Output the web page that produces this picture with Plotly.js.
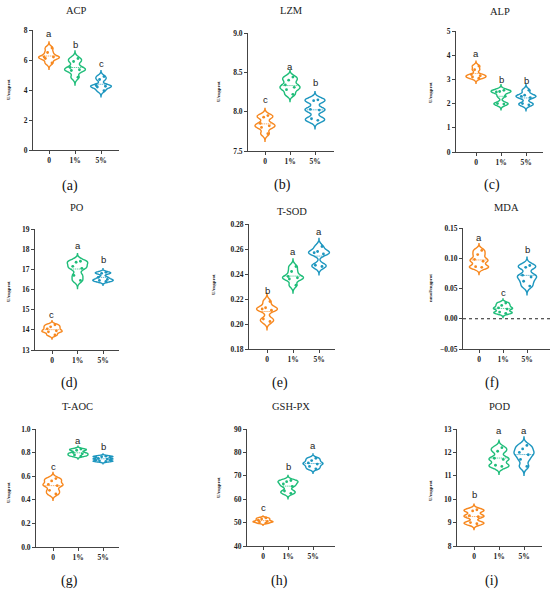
<!DOCTYPE html>
<html>
<head>
<meta charset="utf-8">
<script src="https://cdn.plot.ly/plotly-3.0.1.min.js"></script>
<style>html,body{margin:0;padding:0;background:#fff;}#chart{width:550px;height:596px;}</style>
</head>
<body>
<div id="chart"></div>
<script>
// ---- data ----
const groups = ['0', '1%', '5%'];
const panelTitles = ['ACP', 'LZM', 'ALP', 'PO', 'T-SOD', 'MDA', 'T-AOC', 'GSH-PX', 'POD'];
const panelLabels = ['(a)', '(b)', '(c)', '(d)', '(e)', '(f)', '(g)', '(h)', '(i)'];
const yUnits = ['U/mgprot', 'U/mgprot', 'U/mgprot', 'U/mgprot', 'U/mgprot', 'nmol/mgprot', 'U/mgprot', 'U/mgprot', 'U/mgprot'];

const ACP = [[6.8, 6.5, 6.2, 6.2, 6.1, 5.8], [6.1, 5.9, 5.5, 5.35, 5.3, 4.85], [4.9, 4.7, 4.3, 4.25, 4.2, 3.95]];
const LZM = [[7.95, 7.93, 7.85, 7.82, 7.80, 7.72], [8.44, 8.40, 8.34, 8.31, 8.28, 8.22], [8.15, 8.14, 8.03, 8.02, 7.91, 7.89]];
const ALP = [[3.55, 3.4, 3.2, 3.15, 3.1, 3.05], [2.55, 2.5, 2.48, 2.3, 2.0, 1.98], [2.55, 2.35, 2.3, 2.25, 2.0, 1.95]];
const PO = [[14.25, 14.15, 14.05, 13.95, 13.9, 13.75], [17.4, 17.35, 17.15, 17.05, 16.7, 16.45], [16.85, 16.8, 16.6, 16.5, 16.45, 16.4]];
const TSOD = [[0.218, 0.213, 0.212, 0.211, 0.204, 0.202], [0.246, 0.242, 0.238, 0.237, 0.236, 0.231], [0.262, 0.258, 0.257, 0.256, 0.247, 0.246]];
const MDA = [[0.113, 0.106, 0.098, 0.095, 0.086, 0.085], [0.026, 0.022, 0.018, 0.016, 0.011, 0.009], [0.088, 0.085, 0.072, 0.069, 0.062, 0.054]];
const TAOC = [[0.58, 0.56, 0.53, 0.52, 0.48, 0.45], [0.83, 0.82, 0.80, 0.79, 0.78, 0.77], [0.77, 0.765, 0.75, 0.745, 0.73, 0.725]];
const GSHPX = [[52, 51.5, 51, 50.5, 50.3, 49.8], [68, 67.5, 66.5, 65.5, 63.5, 62.5], [77.5, 76.5, 75.5, 75, 74, 73]];
const POD = [[9.55, 9.5, 9.3, 9.25, 9.0, 8.95], [12.2, 12.05, 11.75, 11.7, 11.45, 11.4], [12.3, 12.15, 12.0, 11.9, 11.7, 11.4]];

const letters = [['a','b','c'], ['c','a','b'], ['a','b','b'], ['c','a','b'], ['b','a','a'], ['a','c','b'], ['c','a','b'], ['c','b','a'], ['b','a','a']];
const letterY = [[7.75, 7.05, 5.75], [8.15, 8.58, 8.37], [4.05, 3.0, 2.95], [14.75, 18.2, 17.5], [0.227, 0.258, 0.274], [0.135, 0.043, 0.115], [0.68, 0.9, 0.85], [56.5, 74, 83], [10.2, 12.95, 12.95]];

const yRanges = [[0, 8], [7.5, 9.0], [0, 5], [13, 19], [0.18, 0.28], [-0.05, 0.15], [0, 1.0], [40, 90], [8, 13]];
const yDticks = [2, 0.5, 1, 1, 0.02, 0.05, 0.2, 10, 1];
const yFormats = ['', '.1f', '', '', '.2f', '.2f', '.1f', '', ''];

const panelData = [ACP, LZM, ALP, PO, TSOD, MDA, TAOC, GSHPX, POD];

// ---- layout geometry (pixels in the 550x596 figure) ----
const W = 550, H = 596;
const geo = [
  {x0: 33, x1: 119, y0: 30, y1: 150, c0: 49, cs: 26},
  {x0: 248, x1: 334, y0: 33, y1: 151, c0: 265, cs: 25},
  {x0: 456, x1: 543, y0: 31, y1: 152, c0: 476, cs: 25},
  {x0: 35, x1: 119, y0: 229, y1: 350, c0: 52, cs: 25.5},
  {x0: 249, x1: 335, y0: 224, y1: 349, c0: 267, cs: 26},
  {x0: 463, x1: 550, y0: 228, y1: 349, c0: 479, cs: 24},
  {x0: 36, x1: 119, y0: 429, y1: 547, c0: 53, cs: 25},
  {x0: 247, x1: 335, y0: 429, y1: 546, c0: 263, cs: 25},
  {x0: 457, x1: 542, y0: 429, y1: 546, c0: 474, cs: 25}
];
const titleY = [10, 10, 11, 208, 211, 208, 406, 406, 406];
const labelPos = [[70, 186], [282, 185], [492, 185], [70, 383], [280, 383], [492, 383], [70, 581], [280, 581], [492, 581]];
const unitPos = [[8, 90], [218, 92], [430, 93], [8, 292], [213, 285], [430, 288], [8, 493], [218, 488], [430, 491]];

const colors = ['#F7881F', '#1FBD79', '#1D96BF'];
const serif = 'Liberation Serif';
const sans = 'Liberation Sans';

const traces = [];
const layout = {
  width: W, height: H,
  margin: {l: 0, r: 0, t: 0, b: 0},
  paper_bgcolor: '#fff', plot_bgcolor: 'rgba(0,0,0,0)',
  showlegend: false,
  violinmode: 'overlay',
  annotations: [],
  shapes: []
};

panelData.forEach((pd, k) => {
  const g = geo[k];
  const sfx = k === 0 ? '' : String(k + 1);
  const xa = 'x' + sfx, ya = 'y' + sfx;
  pd.forEach((vals, gi) => {
    const mn = Math.min(...vals), mx = Math.max(...vals);
    const rg = mx - mn;
    traces.push({
      type: 'violin',
      x: vals.map(() => groups[gi]),
      y: vals,
      xaxis: xa, yaxis: ya,
      line: {color: colors[gi], width: 1.4},
      fillcolor: 'rgba(255,255,255,0)',
      points: 'all', pointpos: 0, jitter: 0.55,
      marker: {color: colors[gi], size: 2.8},
      width: 0.8,
      bandwidth: 0.13 * rg,
      spanmode: 'manual',
      span: [mn - 0.42 * rg, mx + 0.4 * rg],
      scalemode: 'width',
      meanline: {visible: true, color: colors[gi], width: 0.7},
      box: {visible: false},
      hoveron: 'points',
      showlegend: false
    });
    layout.annotations.push({
      x: groups[gi], y: letterY[k][gi], xref: xa, yref: ya,
      text: letters[k][gi], showarrow: false,
      font: {family: sans, size: 9.5, color: '#222'},
      yanchor: 'middle'
    });
  });
  const r0 = (g.x0 - g.c0) / g.cs, r1 = (g.x1 - g.c0) / g.cs;
  layout['xaxis' + sfx] = {
    domain: [g.x0 / W, g.x1 / W],
    anchor: ya,
    type: 'category',
    categoryorder: 'array', categoryarray: groups,
    range: [r0, r1],
    showline: true, linecolor: '#444', linewidth: 1,
    ticks: 'outside', ticklen: 3, tickwidth: 1, tickcolor: '#444',
    showgrid: false, zeroline: false,
    tickfont: {family: serif, size: 7.5, color: '#222', weight: 'bold'},
    fixedrange: true
  };
  layout['yaxis' + sfx] = {
    domain: [1 - g.y1 / H, 1 - g.y0 / H],
    anchor: xa,
    range: yRanges[k],
    dtick: yDticks[k],
    tick0: yRanges[k][0],
    tickformat: yFormats[k],
    showline: true, linecolor: '#444', linewidth: 1,
    ticks: 'outside', ticklen: 3, tickwidth: 1, tickcolor: '#444',
    showgrid: false, zeroline: false,
    tickfont: {family: serif, size: 7.5, color: '#222', weight: 'bold'},
    fixedrange: true
  };
  // panel title
  layout.annotations.push({
    x: (g.x0 + g.x1) / 2 / W, y: 1 - titleY[k] / H, xref: 'paper', yref: 'paper',
    text: panelTitles[k], showarrow: false,
    font: {family: serif, size: 10.5, color: '#222', weight: 'normal'},
    xanchor: 'center', yanchor: 'middle'
  });
  // panel label
  layout.annotations.push({
    x: labelPos[k][0] / W, y: 1 - labelPos[k][1] / H, xref: 'paper', yref: 'paper',
    text: panelLabels[k], showarrow: false,
    font: {family: serif, size: 14, color: '#111', weight: 'normal'},
    xanchor: 'center', yanchor: 'middle'
  });
  // y unit label
  layout.annotations.push({
    x: unitPos[k][0] / W, y: 1 - unitPos[k][1] / H, xref: 'paper', yref: 'paper',
    text: yUnits[k], showarrow: false, textangle: -90,
    font: {family: serif, size: 5, color: '#222', weight: 'bold'},
    xanchor: 'center', yanchor: 'middle'
  });
});

// dotted zero line in MDA panel
layout.shapes.push({
  type: 'line', xref: 'x6 domain', yref: 'y6', x0: 0, x1: 1, y0: 0, y1: 0,
  line: {color: '#222', width: 1.2, dash: 'dot'}
});

Plotly.newPlot('chart', traces, layout, {displayModeBar: false, staticPlot: true});
</script>
</body>
</html>
